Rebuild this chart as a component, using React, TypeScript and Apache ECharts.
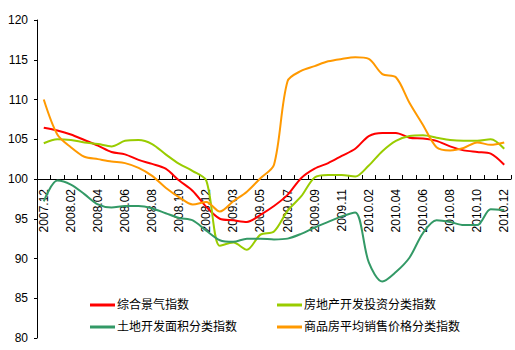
import React, { useEffect, useRef } from "react";
import * as echarts from "echarts";

const categories = [
  "2007.12", "2008.01", "2008.02", "2008.03", "2008.04", "2008.05", "2008.06", "2008.07",
  "2008.08", "2008.09", "2008.10", "2008.11", "2008.12", "2009.02", "2009.03", "2009.04",
  "2009.05", "2009.06", "2009.07", "2009.08", "2009.09", "2009.10", "2009.11", "2009.12",
  "2010.02", "2010.03", "2010.04", "2010.05", "2010.06", "2010.07", "2010.08", "2010.09",
  "2010.10", "2010.11", "2010.12",
];

const compositeIndex = [
  106.45, 106.1, 105.6, 104.9, 104.2, 103.4, 103.1, 102.4, 101.9, 101.3, 99.8, 98.5,
  96.5, 95.0, 94.8, 94.6, 95.5, 96.6, 98.0, 100.1, 101.3, 102.0, 102.9, 103.8,
  105.4, 105.8, 105.8, 105.2, 105.1, 104.8, 104.1, 103.6, 103.4, 103.2, 101.8,
];

const investmentIndex = [
  104.5, 105.0, 104.9, 104.6, 104.4, 104.1, 104.8, 104.9, 104.4, 103.1, 101.9, 101.0,
  99.8, 91.6, 92.0, 91.1, 93.0, 93.4, 96.0, 97.8, 100.2, 100.5, 100.5, 100.3,
  101.7, 103.5, 104.8, 105.4, 105.5, 105.2, 104.9, 104.8, 104.8, 105.0, 103.8,
];

const landIndex = [
  97.2, 99.8, 99.3, 98.1, 96.8, 96.4, 96.6, 96.6, 96.3, 95.7, 95.1, 94.8,
  93.5, 92.3, 92.1, 92.5, 92.5, 92.4, 92.5, 93.1, 93.9, 94.6, 95.3, 95.8,
  89.5, 87.1, 88.3, 90.1, 93.2, 94.8, 94.6, 94.2, 94.2, 96.2, 96.1,
];

const priceIndex = [
  110.0, 105.6, 104.0, 102.8, 102.5, 102.2, 102.0, 101.4, 100.4, 98.9, 97.7, 96.8,
  97.1, 95.9, 97.2, 98.4, 100.1, 101.8, 112.3, 113.6, 114.2, 114.8, 115.1, 115.3,
  115.1, 113.2, 112.8, 109.6, 106.8, 104.0, 103.6, 103.9, 104.6, 104.3, 104.6,
];

const seriesNames = [
  "综合景气指数",
  "房地产开发投资分类指数",
  "土地开发面积分类指数",
  "商品房平均销售价格分类指数",
];

const W = 515;
const H = 350;
const GRID_TOP = 20;
const GRID_BOTTOM = 12;
const Y_MIN = 80;
const Y_MAX = 120;
const CROSS = 100;

export default function App() {
  const ref = useRef<HTMLDivElement>(null);

  useEffect(() => {
    if (!ref.current) return;
    const chart = echarts.init(ref.current, undefined, { renderer: "svg" });
    const gridH = H - GRID_TOP - GRID_BOTTOM;
    const xOffset = -((CROSS - Y_MIN) / (Y_MAX - Y_MIN)) * gridH;
    const font = "'Liberation Sans', Arial, 'Noto Sans CJK SC', sans-serif";
    const mk = (name: string, data: number[], color: string) => ({
      name,
      type: "line",
      data,
      smooth: 0.3,
      showSymbol: false,
      symbol: "none",
      lineStyle: { color, width: 2 },
      itemStyle: { color },
    });
    const legendCommon = {
      orient: "vertical",
      top: 293,
      itemWidth: 25,
      itemHeight: 3,
      itemGap: 8,
      icon: "rect",
      textStyle: { fontSize: 12, color: "#000", fontFamily: font, lineHeight: 14, padding: [0, 0, 0, -3] },
    };
    chart.setOption({
      animation: false,
      textStyle: { fontFamily: font },
      grid: {
        left: 37,
        right: 4,
        top: GRID_TOP,
        bottom: GRID_BOTTOM,
        containLabel: false,
        outerBoundsMode: "none",
      },
      legend: [
        { ...legendCommon, left: 85, data: [seriesNames[0], seriesNames[2]] },
        { ...legendCommon, left: 272, data: [seriesNames[1], seriesNames[3]] },
      ],
      xAxis: {
        type: "category",
        data: categories,
        boundaryGap: true,
        position: "bottom",
        offset: xOffset,
        axisLine: { onZero: false, lineStyle: { color: "#000", width: 1 } },
        axisTick: { show: true, inside: true, length: 4, interval: 0, lineStyle: { color: "#000" } },
        axisLabel: {
          interval: 1,
          rotate: 90,
          margin: 10,
          fontSize: 12,
          color: "#000",
          fontFamily: font,
        },
        splitLine: { show: false },
      },
      yAxis: {
        type: "value",
        min: Y_MIN,
        max: Y_MAX,
        interval: 5,
        axisLine: { show: true, lineStyle: { color: "#000", width: 1 } },
        axisTick: { show: true, inside: false, length: 3, lineStyle: { color: "#000" } },
        axisLabel: { fontSize: 12, color: "#000", margin: 9, fontFamily: font },
        splitLine: { show: false },
      },
      series: [
        mk(seriesNames[0], compositeIndex, "#FF0000"),
        mk(seriesNames[1], investmentIndex, "#99CC00"),
        mk(seriesNames[2], landIndex, "#339966"),
        mk(seriesNames[3], priceIndex, "#FF9900"),
      ],
    });
    return () => chart.dispose();
  }, []);

  return (
    <div
      ref={ref}
      style={{ position: "fixed", left: 0, top: 0, width: W, height: H, background: "#fff" }}
    />
  );
}
